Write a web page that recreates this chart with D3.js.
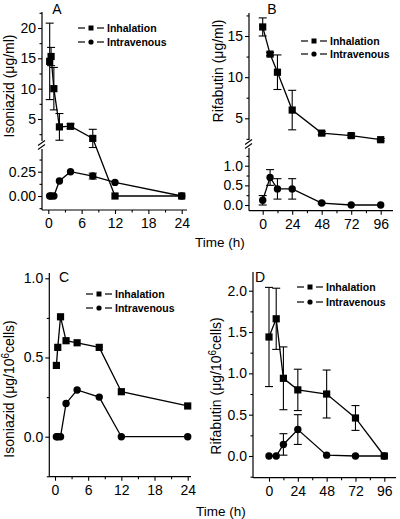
<!DOCTYPE html>
<html><head><meta charset="utf-8">
<script src="https://cdn.jsdelivr.net/npm/d3@7"></script>
<style>body{margin:0;background:#fff}</style>
</head><body>
<script>
// ---------- DATA ----------
const timesA = [0.25, 0.5, 1, 2, 4, 8, 12, 24];
const inhA = [14.5, 15.3, 10, 3.7, 3.8, 1.8, 0, 0];
const inhAErr = [6.3, 1.5, 3.5, 2.2, 0.4, 1.5, 0, 0];
const ivA = [0, 0, 0, 0.155, 0.25, 0.205, 0.14, 0];
const ivAErr = [0, 0, 0, 0, 0, 0.03, 0, 0];

const timesB = [0, 6, 12, 24, 48, 72, 96];
const inhB = [16.1, 12.8, 10.6, 6.0, 3.2, 2.9, 2.4];
const inhBErr = [1.1, 0.2, 2.1, 2.4, 0.2, 0.2, 0.15];
const ivB = [0.12, 0.7, 0.41, 0.41, 0.05, 0, 0];
const ivBErr = [0.12, 0.2, 0.26, 0.26, 0.02, 0, 0];

const timesC = [0.25, 0.5, 1, 2, 4, 8, 12, 24];
const inhC = [0.45, 0.564, 0.757, 0.606, 0.593, 0.564, 0.284, 0.194];
const ivC = [0, 0, 0, 0.21, 0.295, 0.25, 0, 0];

const timesD = [0, 6, 12, 24, 48, 72, 96];
const inhD = [1.44, 1.66, 0.94, 0.8, 0.75, 0.46, 0];
const inhDErr = [0.6, 0.37, 0.38, 0.25, 0.29, 0.15, 0];
const ivD = [0, 0, 0.14, 0.32, 0.01, 0, 0];
const ivDErr = [0, 0, 0.13, 0.18, 0, 0, 0];

const seriesNames = ["Inhalation", "Intravenous"];
const xTicks24 = [0, 6, 12, 18, 24];
const xMinor24 = [3, 9, 15, 21];
const xTicks96 = [0, 24, 48, 72, 96];
const xMinor96 = [12, 36, 60, 84];
const panelLetters = ["A", "B", "C", "D"];
const xTitle = "Time (h)";

// ---------- DRAWING ----------
const FONT = "'Liberation Sans', Arial, Helvetica, sans-serif";
const svg = d3.select("body").append("svg")
  .attr("width", 400).attr("height", 519)
  .style("font-family", FONT);

function vLine(g, x, y1, y2) {
  g.append("line").attr("x1", x).attr("x2", x).attr("y1", y1).attr("y2", y2)
    .attr("stroke", "#000").attr("stroke-width", 1.2);
}
function hLine(g, y, x1, x2) {
  g.append("line").attr("y1", y).attr("y2", y).attr("x1", x1).attr("x2", x2)
    .attr("stroke", "#000").attr("stroke-width", 1.2);
}

function yAxis(scale, x0, majors, minors, fmt) {
  const gM = svg.append("g").attr("transform", `translate(${x0},0)`)
    .call(d3.axisLeft(scale).tickValues(majors).tickSize(4).tickSizeOuter(0).tickFormat(fmt));
  gM.select(".domain").remove();
  gM.selectAll("line").attr("stroke-width", 1.1);
  gM.selectAll("text").attr("font-size", 14).attr("font-family", FONT).attr("x", -6);
  const gm = svg.append("g").attr("transform", `translate(${x0},0)`)
    .call(d3.axisLeft(scale).tickValues(minors).tickSize(2.5).tickSizeOuter(0).tickFormat(""));
  gm.select(".domain").remove();
  gm.selectAll("line").attr("stroke-width", 1.1);
}
function xAxis(scale, y0, majors, minors) {
  const gM = svg.append("g").attr("transform", `translate(0,${y0})`)
    .call(d3.axisBottom(scale).tickValues(majors).tickSize(4).tickSizeOuter(0).tickFormat(d3.format("d")));
  gM.select(".domain").remove();
  gM.selectAll("line").attr("stroke-width", 1.1);
  gM.selectAll("text").attr("font-size", 14).attr("font-family", FONT).attr("y", 8);
  const gm = svg.append("g").attr("transform", `translate(0,${y0})`)
    .call(d3.axisBottom(scale).tickValues(minors).tickSize(2.5).tickSizeOuter(0).tickFormat(""));
  gm.select(".domain").remove();
  gm.selectAll("line").attr("stroke-width", 1.1);
}
function breakMark(x0, y) {
  [y - 2, y + 2].forEach(yy => {
    svg.append("line").attr("x1", x0 - 4).attr("y1", yy + 2.5).attr("x2", x0 + 3).attr("y2", yy - 2.5)
      .attr("stroke", "#000").attr("stroke-width", 1.1);
  });
}

function drawSeries(times, vals, errs, xs, yf, type) {
  const g = svg.append("g");
  const pts = times.map((t, i) => ({ t, v: vals[i], e: errs ? errs[i] : 0 }));
  const line = d3.line().x(d => xs(d.t)).y(d => yf(d.v, d.v));
  g.append("path").attr("d", line(pts)).attr("fill", "none").attr("stroke", "#000").attr("stroke-width", 1.3);
  pts.forEach(d => {
    if (d.e > 0) {
      const x = xs(d.t), yT = yf(d.v + d.e, d.v), yB = yf(d.v - d.e, d.v);
      g.append("line").attr("x1", x).attr("x2", x).attr("y1", yT).attr("y2", yB).attr("stroke", "#000").attr("stroke-width", 1.1);
      [yT, yB].forEach(yy => g.append("line").attr("x1", x - 4).attr("x2", x + 4).attr("y1", yy).attr("y2", yy)
        .attr("stroke", "#000").attr("stroke-width", 1.1));
    }
  });
  pts.forEach(d => {
    const x = xs(d.t), y = yf(d.v, d.v);
    if (type === "square") g.append("rect").attr("x", x - 3.6).attr("y", y - 3.6).attr("width", 7.2).attr("height", 7.2).attr("fill", "#000");
    else g.append("circle").attr("cx", x).attr("cy", y).attr("r", 3.7).attr("fill", "#000");
  });
}

function legend(x, y1, y2) {
  [[y1, "square", seriesNames[0]], [y2, "circle", seriesNames[1]]].forEach(([y, type, name]) => {
    svg.append("line").attr("x1", x).attr("x2", x + 7).attr("y1", y).attr("y2", y).attr("stroke", "#000").attr("stroke-width", 1.2);
    svg.append("line").attr("x1", x + 19).attr("x2", x + 26).attr("y1", y).attr("y2", y).attr("stroke", "#000").attr("stroke-width", 1.2);
    if (type === "square") svg.append("rect").attr("x", x + 10.5).attr("y", y - 2.5).attr("width", 5).attr("height", 5).attr("fill", "#000");
    else svg.append("circle").attr("cx", x + 13).attr("cy", y).attr("r", 2.6).attr("fill", "#000");
    svg.append("text").attr("x", x + 29).attr("y", y).attr("dy", "0.36em")
      .attr("font-size", 10.5).attr("font-weight", "bold").text(name);
  });
}

function letter(txt, x, y) {
  svg.append("text").attr("x", x).attr("y", y).attr("font-size", 14).attr("text-anchor", "middle").text(txt);
}
function yTitle(x, y, main, sup, rest) {
  const t = svg.append("text").attr("transform", `translate(${x},${y}) rotate(-90)`)
    .attr("text-anchor", "middle").attr("font-size", 14);
  t.append("tspan").text(main);
  if (sup) {
    t.append("tspan").attr("dy", -5).attr("font-size", 10).text(sup);
    t.append("tspan").attr("dy", 5).text(rest);
  }
}

// ---- Panel A ----
{
  const x0 = 42, yb = 210;
  const xs = d3.scaleLinear().domain([0, 24]).range([48.3, 181.7]);
  const yU = d3.scaleLinear().domain([5, 20]).range([119, 28]);
  const yL = d3.scaleLinear().domain([0, 0.25]).range([196, 171.7]);
  const yf = (v, ref) => ref > 0.6 ? yU(v) : yL(v);
  vLine(svg, x0, 12, 141); vLine(svg, x0, 149, yb); hLine(svg, yb, x0, 187);
  breakMark(x0, 145);
  yAxis(yU, x0, [5, 10, 15, 20], [2.5, 7.5, 12.5, 17.5, 22.5], d3.format("d"));
  yAxis(yL, x0, [0, 0.25], [-0.125, 0.125, 0.375], d3.format(".2f"));
  xAxis(xs, yb, xTicks24, xMinor24);
  drawSeries(timesA, inhA, inhAErr, xs, yf, "square");
  drawSeries(timesA, ivA, ivAErr, xs, yf, "circle");
  legend(78, 28, 42);
  letter(panelLetters[0], 57, 14);
  yTitle(14, 86, "Isoniazid (μg/ml)");
}
// ---- Panel B ----
{
  const x0 = 249, yb = 210.7;
  const xs = d3.scaleLinear().domain([0, 96]).range([262.7, 380.7]);
  const yU = d3.scaleLinear().domain([5, 15]).range([118.3, 36]);
  const yL = d3.scaleLinear().domain([0, 1]).range([205, 165.7]);
  const yf = (v, ref) => ref > 1.5 ? yU(v) : yL(v);
  vLine(svg, x0, 13, 140); vLine(svg, x0, 148, yb); hLine(svg, yb, x0, 393);
  breakMark(x0, 144);
  yAxis(yU, x0, [5, 10, 15], [2.5, 7.5, 12.5, 17.5], d3.format("d"));
  yAxis(yL, x0, [0, 0.5, 1.0], [0.25, 0.75, 1.25], d3.format(".1f"));
  xAxis(xs, yb, xTicks96, xMinor96);
  drawSeries(timesB, inhB, inhBErr, xs, yf, "square");
  drawSeries(timesB, ivB, ivBErr, xs, yf, "circle");
  legend(301, 41, 54);
  letter(panelLetters[1], 272, 14);
  yTitle(223, 71, "Rifabutin (μg/ml)");
  svg.append("text").attr("x", 195).attr("y", 247).attr("font-size", 13.5).text(xTitle);
}
// ---- Panel C ----
{
  const x0 = 49.3, yb = 476.7;
  const xs = d3.scaleLinear().domain([0, 24]).range([55, 187.7]);
  const ys = d3.scaleLinear().domain([0, 1]).range([436.7, 278.3]);
  const yf = (v) => ys(v);
  vLine(svg, x0, 273, yb); hLine(svg, yb, x0, 191);
  yAxis(ys, x0, [0, 0.5, 1.0], [-0.25, 0.25, 0.75], d3.format(".1f"));
  xAxis(xs, yb, xTicks24, xMinor24);
  drawSeries(timesC, inhC, null, xs, yf, "square");
  drawSeries(timesC, ivC, null, xs, yf, "circle");
  legend(86, 294, 308);
  letter(panelLetters[2], 64, 282);
  yTitle(14, 389, "Isoniazid (μg/10", "6", "cells)");
}
// ---- Panel D ----
{
  const x0 = 253, yb = 477.7;
  const xs = d3.scaleLinear().domain([0, 96]).range([269, 384.3]);
  const ys = d3.scaleLinear().domain([0, 2]).range([456, 290.7]);
  const yf = (v) => ys(v);
  vLine(svg, x0, 272, yb); hLine(svg, yb, x0, 396);
  yAxis(ys, x0, [0, 0.5, 1.0, 1.5, 2.0], [-0.25, 0.25, 0.75, 1.25, 1.75], d3.format(".1f"));
  xAxis(xs, yb, xTicks96, xMinor96);
  drawSeries(timesD, inhD, inhDErr, xs, yf, "square");
  drawSeries(timesD, ivD, ivDErr, xs, yf, "circle");
  legend(297, 287, 302);
  letter(panelLetters[3], 260, 282);
  yTitle(221, 386, "Rifabutin (μg/10", "6", "cells)");
  svg.append("text").attr("x", 196).attr("y", 516).attr("font-size", 13.5).text(xTitle);
}
</script>
</body></html>
